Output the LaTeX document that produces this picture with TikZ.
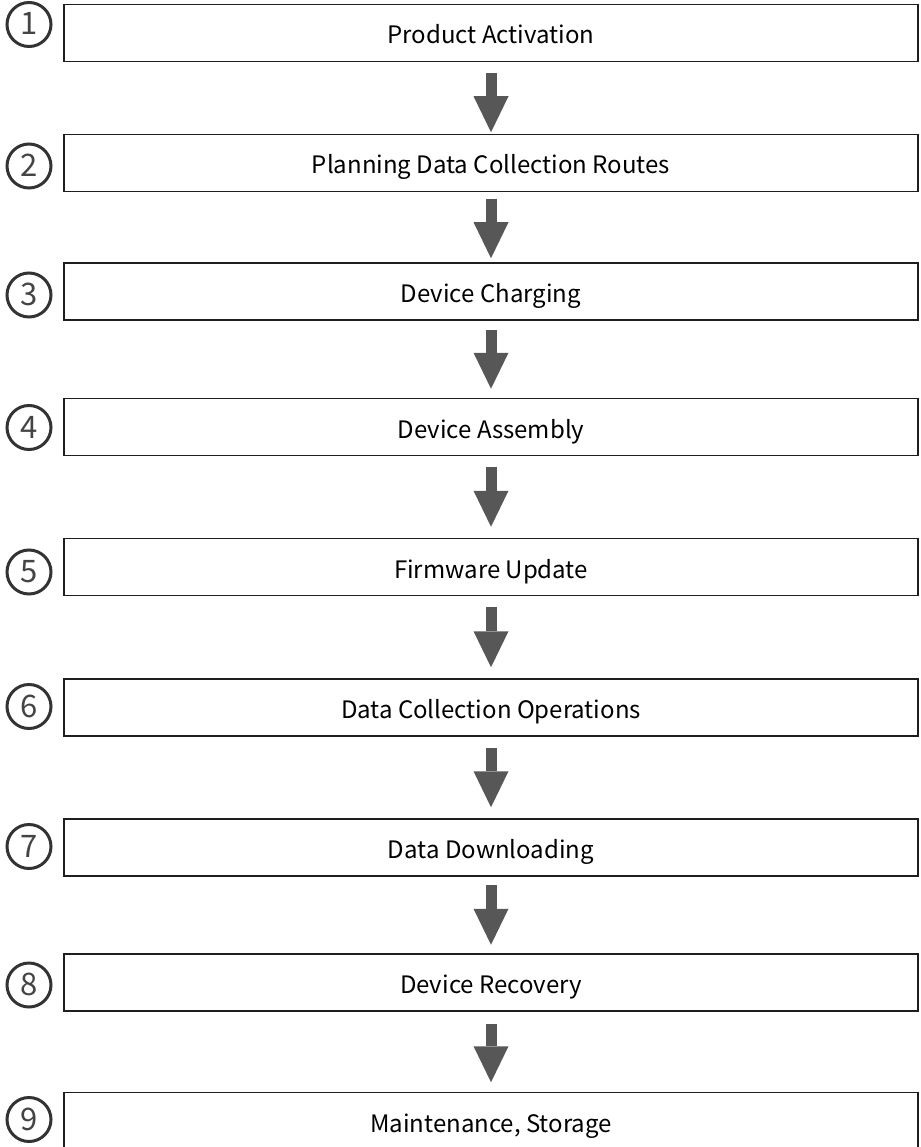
\documentclass[tikz,border=0pt]{standalone}
\usepackage{fontspec}
\setmainfont{Noto Sans CJK JP}
\usetikzlibrary{arrows.meta}
\definecolor{boxline}{HTML}{1E1E1E}
\definecolor{arrowgray}{HTML}{575757}
\definecolor{ringgray}{HTML}{333333}
\definecolor{numgray}{HTML}{444444}
\begin{document}
\begin{tikzpicture}[x=1pt, y=-1pt,
	stepbox/.style={draw=boxline, line width=1.5pt, rectangle, minimum width=854pt,
		minimum height=57pt, inner sep=0pt, font=\fontsize{24}{28}\selectfont,
		text height=25pt, text depth=3pt},
	numring/.style={draw=ringgray, line width=3pt, circle, minimum size=44pt,
		inner sep=0pt, text=numgray, font=\fontsize{31}{34}\selectfont,
		text height=21pt, text depth=0pt},
	flowarrow/.style={arrowgray, line width=11pt,
		-{Triangle[length=36pt, width=35pt, line width=0pt]}}]
	\useasboundingbox (0,0) rectangle (920,1147);
	\clip (0,0) rectangle (920,1147);

	\node[stepbox] (s1) at (491, 33)    {Product Activation};
	\node[stepbox] (s2) at (491, 163)   {Planning Data Collection Routes};
	\node[stepbox] (s3) at (491, 291.5) {Device Charging};
	\node[stepbox] (s4) at (491, 427)   {Device Assembly};
	\node[stepbox] (s5) at (491, 567)   {Firmware Update};
	\node[stepbox] (s6) at (491, 707.5) {Data Collection Operations};
	\node[stepbox] (s7) at (491, 847.5) {Data Downloading};
	\node[stepbox] (s8) at (491, 982.5) {Device Recovery};
	\node[stepbox] (s9) at (491, 1121)  {Maintenance, Storage};

	\node[numring] (n1) at (29, 24.5)   {1};
	\node[numring] (n2) at (29, 166)    {2};
	\node[numring] (n3) at (29, 295)    {3};
	\node[numring] (n4) at (29, 427.5)  {4};
	\node[numring] (n5) at (29, 572)    {5};
	\node[numring] (n6) at (29, 706.5)  {6};
	\node[numring] (n7) at (29, 846.5)  {7};
	\node[numring] (n8) at (29, 985)    {8};
	\node[numring] (n9) at (29, 1119.5) {9};

	\draw[flowarrow, shorten <=10.5pt, shorten >=1.5pt] (s1) -- (s2);
	\draw[flowarrow, shorten <=6.5pt, shorten >=4pt] (s2) -- (s3);
	\draw[flowarrow, shorten <=9pt, shorten >=9pt] (s3) -- (s4);
	\draw[flowarrow, shorten <=11pt, shorten >=11pt] (s4) -- (s5);
	\draw[flowarrow, shorten <=11pt, shorten >=11pt] (s5) -- (s6);
	\draw[flowarrow, shorten <=11pt, shorten >=11pt] (s6) -- (s7);
	\draw[flowarrow, shorten <=8.5pt, shorten >=8.5pt] (s7) -- (s8);
	\draw[flowarrow, shorten <=12pt, shorten >=9.5pt] (s8) -- (s9);
\end{tikzpicture}
\end{document}
